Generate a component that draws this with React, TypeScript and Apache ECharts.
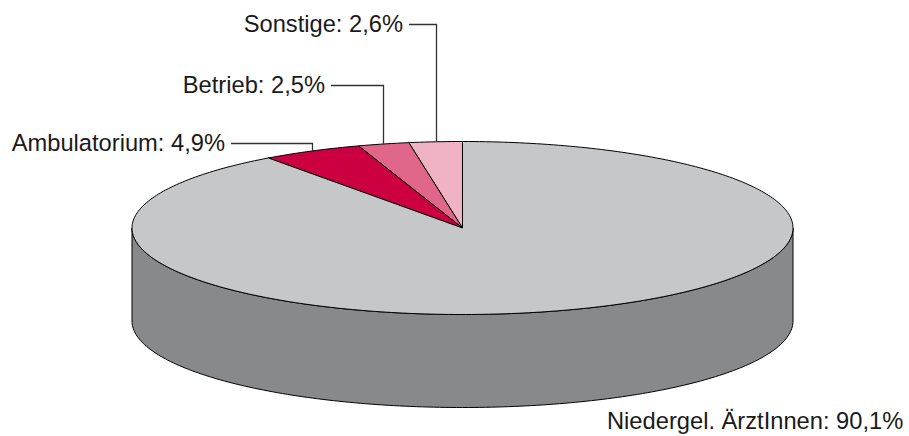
import React, { useEffect, useRef } from "react";
import * as echarts from "echarts";

const categories = ["Sonstige", "Betrieb", "Ambulatorium", "Niedergel. ÄrztInnen"];
const values = [2.6, 2.5, 4.9, 90.1];
const topColors = ["#F0B3C3", "#E0678A", "#CC0041", "#C6C7C9"];
const sideColors = ["#C08A98", "#B0506C", "#A00033", "#88898B"];

// label layout (text anchor positions), not data
const labelLayout = [
  { x: 403, y: 24, align: "right", leader: true },
  { x: 325, y: 85, align: "right", leader: true },
  { x: 225, y: 143, align: "right", leader: true },
  { x: 607, y: 421, align: "left", leader: false },
];

const CX = 462.5;
const CY = 228;
const RX = 330.5;
const RY = 86.5;
const DEPTH = 93;

function pt(deg: number, dy = 0): number[] {
  const t = (deg * Math.PI) / 180;
  return [CX - RX * Math.sin(t), CY - RY * Math.cos(t) + dy];
}

function arc(a0: number, a1: number, dy = 0): number[][] {
  const pts: number[][] = [];
  const n = Math.max(2, Math.ceil(Math.abs(a1 - a0)));
  for (let i = 0; i <= n; i++) pts.push(pt(a0 + ((a1 - a0) * i) / n, dy));
  return pts;
}

function fmt(v: number): string {
  return v.toFixed(1).replace(".", ",") + "%";
}

export default function App() {
  const ref = useRef<HTMLDivElement>(null);
  useEffect(() => {
    if (!ref.current) return;
    const chart = echarts.init(ref.current, null, { renderer: "svg" });
    const total = values.reduce((a, b) => a + b, 0);
    const starts: number[] = [];
    let acc = 0;
    values.forEach((v) => {
      starts.push((acc / total) * 360);
      acc += v;
    });
    chart.setOption({
      animation: false,
      backgroundColor: "#ffffff",
      series: [
        {
          type: "custom",
          coordinateSystem: "none",
          silent: true,
          data: values,
          renderItem: (params: any, api: any) => {
            const i = params.dataIndex;
            const v = api.value(0);
            const a0 = starts[i];
            const a1 = a0 + (v / total) * 360;
            const children: any[] = [];
            // side wall (visible front half 90..270)
            const s0 = Math.max(a0, 90);
            const s1 = Math.min(a1, 270);
            if (s1 > s0) {
              const top = arc(s0, s1);
              const bottom = arc(s1, s0, DEPTH);
              children.push({
                type: "polygon",
                shape: { points: top.concat(bottom) },
                style: { fill: sideColors[i], stroke: "#000", lineWidth: 1 },
                z2: 1,
              });
            }
            // top face
            children.push({
              type: "polygon",
              shape: { points: [[CX, CY]].concat(arc(a0, a1)) },
              style: { fill: topColors[i], stroke: "#000", lineWidth: 1, lineJoin: "round" },
              z2: 2,
            });
            // label
            const L = labelLayout[i];
            children.push({
              type: "text",
              x: L.x,
              y: L.y,
              style: {
                text: categories[i] + ": " + fmt(v),
                fill: "#1a1a1a",
                fontSize: 23.7,
                fontFamily: "Liberation Sans, Arial, sans-serif",
                align: L.align,
                verticalAlign: "middle",
              },
              z2: 3,
            });
            if (L.leader) {
              const mid = pt((a0 + a1) / 2);
              const lx = Math.round(mid[0]) + 0.5;
              const ly = Math.round(L.y) + 0.5;
              children.push({
                type: "polyline",
                shape: { points: [[L.x + 6, ly], [lx, ly], [lx, mid[1]]] },
                style: { stroke: "#333", lineWidth: 1.3, fill: "none" },
                z2: 3,
              });
            }
            return { type: "group", children };
          },
        },
      ],
    });
    return () => chart.dispose();
  }, []);
  return (
    <div
      ref={ref}
      style={{ position: "fixed", left: 0, top: 0, width: 909, height: 436 }}
    />
  );
}
